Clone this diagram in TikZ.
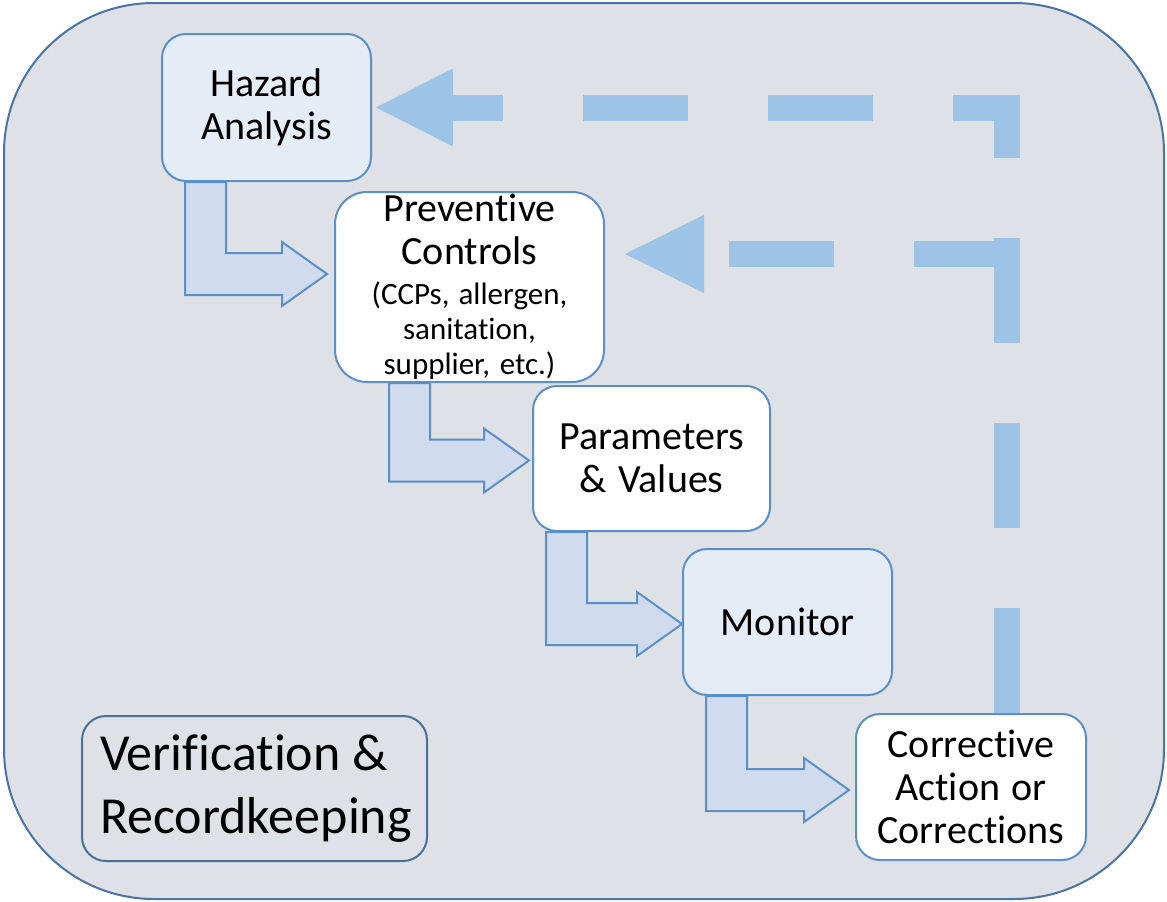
\documentclass[tikz,border=0pt]{standalone}
\usepackage{fontspec}
\setmainfont{Carlito}[Ligatures=NoCommon]
\usetikzlibrary{calc}

\definecolor{panel}{HTML}{DEE1E6}
\definecolor{panelline}{HTML}{4A74A6}
\definecolor{boxline}{HTML}{5B8FC8}
\definecolor{boxfill}{HTML}{E4ECF6}
\definecolor{arrowfill}{HTML}{D0DCEE}
\definecolor{loopblue}{HTML}{9DC3E6}
\definecolor{vrline}{HTML}{4A6F9E}

\pgfdeclarelayer{back}
\pgfdeclarelayer{mid}
\pgfsetlayers{back,mid,main}

\tikzset{
  natural spaces/.style={execute at begin node={\spaceskip=0pt\xspaceskip=0pt\relax}},
  stage/.style={draw=boxline, line width=2pt, rounded corners=24pt,
    inner xsep=0pt, inner ysep=0pt, align=center, natural spaces,
    font=\fontsize{40}{43}\selectfont},
  stagelight/.style={stage, fill=boxfill},
  stagewhite/.style={stage, fill=white},
  bentshape/.style={draw=boxline, line width=2pt, fill=arrowfill, line join=miter},
  loopline/.style={draw=loopblue, line width=26pt, dash pattern=on 105pt off 80pt,
    line join=miter, line cap=butt},
}

% bent block arrow: #1 = top-left corner of the shaft, #2 = tip
\newcommand\bentarrow[2]{%
  \coordinate (ba) at #1;
  \coordinate (bt) at #2;
  \coordinate (bc) at (ba |- bt);
  \draw[bentshape] (ba) -- ($(ba)+(41,0)$) -- ($(bc)+(41,-21)$)
    -- ($(bt)+(-45,-21)$) -- ($(bt)+(-45,-32)$) -- (bt)
    -- ($(bt)+(-45,32)$) -- ($(bt)+(-45,21)$) -- ($(bc)+(0,21)$) -- cycle;}

\begin{document}
\begin{tikzpicture}[x=1pt,y=-1pt]
\useasboundingbox (0,0) rectangle (1167,902);

\begin{pgfonlayer}{back}
  \draw[draw=panelline, fill=panel, line width=2pt, rounded corners=150pt]
    (4,3) rectangle (1164,899);
\end{pgfonlayer}

% process steps
\node[stagelight, text width=209pt, minimum height=147pt] (haz) at (266.5,107.5)
  {Hazard\\Analysis};
\node[stagewhite, rounded corners=32pt, text width=269pt, minimum height=190pt] (prev) at (469.5,287)
  {Preventive\\Controls\par\vspace{5pt}\fontsize{31}{35}\selectfont (CCPs, allergen,\\sanitation,\\supplier, etc.)\par};
\node[stagewhite, text width=237pt, minimum height=145pt] (par) at (651.5,458.5)
  {Parameters\\\& Values};
\node[stagelight, text width=209pt, minimum height=146pt] (mon) at (787.5,622)
  {Monitor};
\node[stagewhite, text width=230pt, minimum height=146pt] (cor) at (971,787)
  {Corrective\\Action or\\Corrections};
\node[draw=vrline, line width=2pt, rounded corners=24pt, text width=309pt,
  inner xsep=18pt, inner ysep=0pt, minimum height=145pt, align=left, natural spaces,
  font=\fontsize{52}{63}\selectfont] (ver) at (254.5,788.5)
  {Verification \&\\Recordkeeping};

\begin{pgfonlayer}{mid}
  % step-to-step arrows
  \bentarrow{($(haz.south west)+(24,0)$)}{($(prev.west)+(-7,-13)$)}
  \bentarrow{($(prev.south west)+(55,0)$)}{($(par.west)+(-3,2)$)}
  \bentarrow{($(par.south west)+(14,0)$)}{($(mon.west)+(0,2)$)}
  \bentarrow{($(mon.south west)+(24,0)$)}{($(cor.west)+(-6,3)$)}

  % feedback loops
  \coordinate (lx) at (1007,0);
  \coordinate (loopstart) at (lx |- cor.north);
  \coordinate (tophead) at ($(haz.east)+(4,0)$);
  \coordinate (midhead) at ($(prev.east)+(20,-33)$);
  \draw[loopline] (loopstart) -- (lx |- tophead) -- ($(tophead)+(77,0)$);
  \fill[loopblue] (tophead) -- ++(77,-39) -- ++(0,78) -- cycle;
  \draw[loopline] ($(lx |- midhead)+(0,12)$) -- (lx |- midhead) -- ($(midhead)+(79,0)$);
  \fill[loopblue] (midhead) -- ++(79,-39) -- ++(0,78) -- cycle;
\end{pgfonlayer}
\end{tikzpicture}
\end{document}
